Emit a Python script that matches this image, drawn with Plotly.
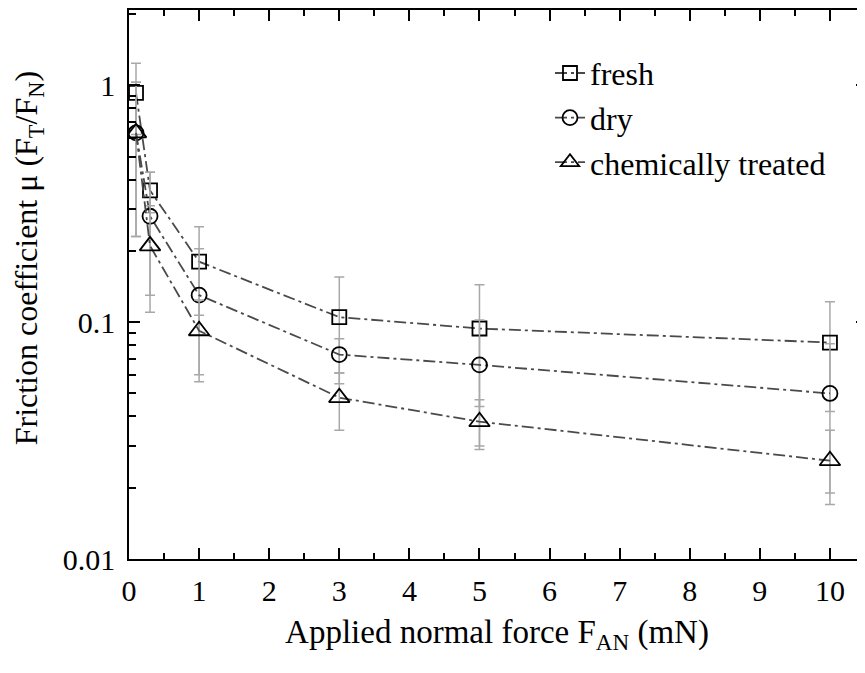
import plotly.graph_objects as go

# ---- data ----
force = [0.1, 0.3, 1, 3, 5, 10]

fresh = [0.93, 0.36, 0.18, 0.105, 0.094, 0.082]
fresh_err = [0.31, 0.07, 0.073, 0.05, 0.05, 0.04]

dry = [0.63, 0.28, 0.13, 0.073, 0.066, 0.050]
dry_err = [0.40, 0.15, 0.074, 0.012, 0.036, 0.031]

chem = [0.63, 0.21, 0.092, 0.048, 0.038, 0.026]
chem_err = [0.40, 0.10, 0.032, 0.013, 0.009, 0.009]

series_names = ["fresh", "dry", "chemically treated"]
y_tickvals = [0.01, 0.1, 1]
y_ticktext = ["0.01", "0.1", "1"]
x_tickvals = [0, 1, 2, 3, 4, 5, 6, 7, 8, 9, 10]

FONT = "Liberation Serif, Times New Roman, serif"
Y_RANGE = [-2, 0.318]
X_RANGE = [0, 10.5]

fig = go.Figure()

series = [
    (fresh, fresh_err, "square-open", 14),
    (dry, dry_err, "circle-open", 15),
    (chem, chem_err, "triangle-up-open", 18),
]
for name, (vals, errs, sym, size) in zip(series_names, series):
    fig.add_trace(go.Scatter(
        x=force, y=vals, name=name, mode="lines+markers",
        line=dict(color="#4a4a4a", width=1.8, dash="12px,4px,3px,4px"),
        marker=dict(symbol=sym, size=size, color="black",
                    line=dict(color="black", width=1.8)),
        error_y=dict(type="data", array=errs, visible=True,
                     color="#a8a8a8", thickness=1.5, width=5),
    ))

# empty trace so that the right-hand (mirror) tick axis gets drawn
fig.add_trace(go.Scatter(x=[], y=[], yaxis="y2", showlegend=False,
                         hoverinfo="skip"))

# the page body has an 8px margin, so the figure is sized to fit the window
fig.update_layout(
    width=857, height=665,
    margin=dict(l=121, r=0, t=2, b=114),
    paper_bgcolor="white", plot_bgcolor="white",
    font=dict(family=FONT, size=30, color="black"),
    showlegend=True,
    legend=dict(x=0.572, y=0.935, xanchor="left", yanchor="top",
                bgcolor="rgba(0,0,0,0)", font=dict(family=FONT, size=32),
                itemwidth=30),
    yaxis2=dict(type="log", range=Y_RANGE, overlaying="y", side="right",
                anchor="x", showline=False, showgrid=False, zeroline=False,
                showticklabels=False, tickvals=y_tickvals, automargin=False,
                ticks="inside", ticklen=9, tickwidth=1.5, tickcolor="black",
                minor=dict(ticks="inside", ticklen=6, tickwidth=1.5,
                           tickcolor="black", dtick="D1")),
)

fig.update_xaxes(
    range=X_RANGE, tickvals=x_tickvals, automargin=False,
    showline=True, linecolor="black", linewidth=1.5, mirror="ticks",
    ticks="inside", ticklen=11, tickwidth=1.5, tickcolor="black",
    minor=dict(dtick=0.5, ticks="inside", ticklen=6, tickwidth=1.5, tickcolor="black"),
    showgrid=False, zeroline=False,
    tickfont=dict(family=FONT, size=30),
    ticklabelstandoff=4,
    title=dict(text="Applied normal force F<sub>AN</sub> (mN)",
               font=dict(family=FONT, size=33), standoff=14),
)

fig.update_layout(yaxis=dict(
    type="log", range=Y_RANGE, automargin=False,
    tickvals=y_tickvals, ticktext=y_ticktext,
    showline=True, linecolor="black", linewidth=1.5,
    ticks="inside", ticklen=11, tickwidth=1.5, tickcolor="black",
    minor=dict(ticks="inside", ticklen=7, tickwidth=1.5, tickcolor="black", dtick="D1"),
    showgrid=False, zeroline=False,
    tickfont=dict(family=FONT, size=30),
    ticklabelstandoff=6,
))

# y-axis title (placed a little above the plot centre, as in the reference)
fig.add_annotation(
    text="Friction coefficient μ (F<sub>T</sub>/F<sub>N</sub>)",
    xref="paper", yref="paper", x=-0.137, y=0.548,
    xanchor="center", yanchor="middle", textangle=-90, showarrow=False,
    font=dict(family=FONT, size=32, color="black"),
)

fig.write_html("out.html")
